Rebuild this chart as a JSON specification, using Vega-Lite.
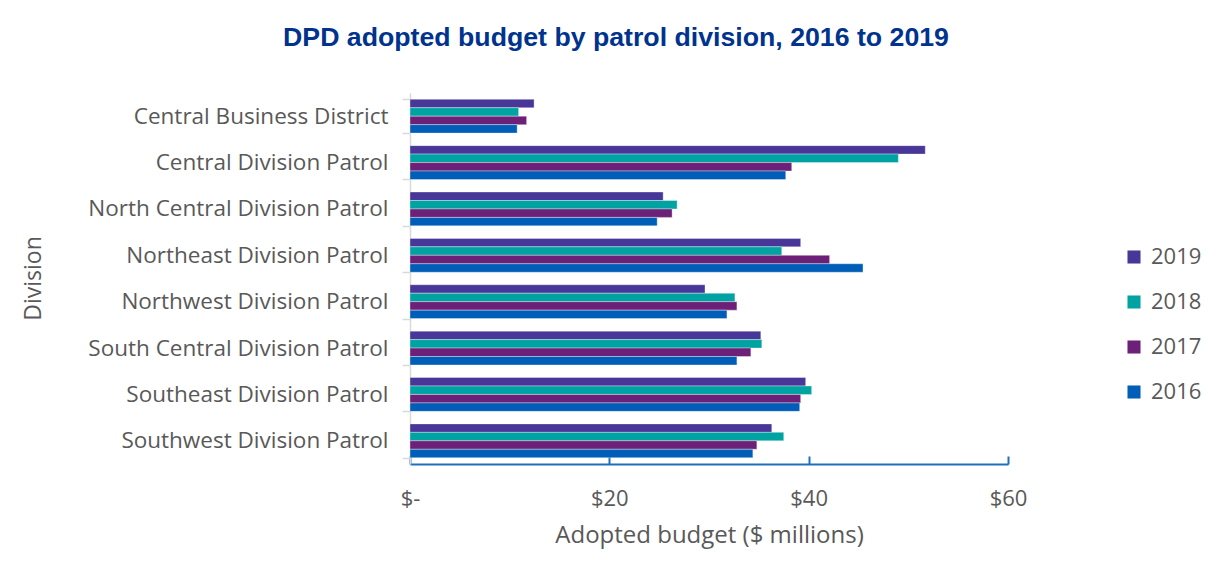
{
  "$schema": "https://vega.github.io/schema/vega-lite/v6.json",
  "width": 598,
  "height": 371,
  "padding": {"left": 22, "top": 25, "right": 5, "bottom": 5},
  "background": "white",
  "title": {
    "text": "DPD adopted budget by patrol division, 2016 to 2019",
    "font": "Liberation Sans",
    "fontSize": 26.7,
    "fontWeight": "bold",
    "color": "#00338D",
    "anchor": "middle",
    "frame": "bounds",
    "offset": 30,
    "dx": 4
  },
  "data": {
    "values": [
      {"division": "Central Business District", "year": "2019", "budget": 12.45},
      {"division": "Central Business District", "year": "2018", "budget": 10.9},
      {"division": "Central Business District", "year": "2017", "budget": 11.7},
      {"division": "Central Business District", "year": "2016", "budget": 10.75},
      {"division": "Central Division Patrol", "year": "2019", "budget": 51.7},
      {"division": "Central Division Patrol", "year": "2018", "budget": 49.0},
      {"division": "Central Division Patrol", "year": "2017", "budget": 38.3},
      {"division": "Central Division Patrol", "year": "2016", "budget": 37.7},
      {"division": "North Central Division Patrol", "year": "2019", "budget": 25.4},
      {"division": "North Central Division Patrol", "year": "2018", "budget": 26.8},
      {"division": "North Central Division Patrol", "year": "2017", "budget": 26.3},
      {"division": "North Central Division Patrol", "year": "2016", "budget": 24.8},
      {"division": "Northeast Division Patrol", "year": "2019", "budget": 39.2},
      {"division": "Northeast Division Patrol", "year": "2018", "budget": 37.3},
      {"division": "Northeast Division Patrol", "year": "2017", "budget": 42.1},
      {"division": "Northeast Division Patrol", "year": "2016", "budget": 45.45},
      {"division": "Northwest Division Patrol", "year": "2019", "budget": 29.6},
      {"division": "Northwest Division Patrol", "year": "2018", "budget": 32.6},
      {"division": "Northwest Division Patrol", "year": "2017", "budget": 32.8},
      {"division": "Northwest Division Patrol", "year": "2016", "budget": 31.8},
      {"division": "South Central Division Patrol", "year": "2019", "budget": 35.2},
      {"division": "South Central Division Patrol", "year": "2018", "budget": 35.3},
      {"division": "South Central Division Patrol", "year": "2017", "budget": 34.2},
      {"division": "South Central Division Patrol", "year": "2016", "budget": 32.8},
      {"division": "Southeast Division Patrol", "year": "2019", "budget": 39.7},
      {"division": "Southeast Division Patrol", "year": "2018", "budget": 40.3},
      {"division": "Southeast Division Patrol", "year": "2017", "budget": 39.2},
      {"division": "Southeast Division Patrol", "year": "2016", "budget": 39.1},
      {"division": "Southwest Division Patrol", "year": "2019", "budget": 36.3},
      {"division": "Southwest Division Patrol", "year": "2018", "budget": 37.5},
      {"division": "Southwest Division Patrol", "year": "2017", "budget": 34.8},
      {"division": "Southwest Division Patrol", "year": "2016", "budget": 34.4}
    ]
  },
  "mark": {"type": "bar", "stroke": "white", "strokeWidth": 0.5, "strokeOpacity": 0.7},
  "encoding": {
    "y": {
      "field": "division",
      "type": "nominal",
      "sort": null,
      "scale": {"paddingInner": 0.27, "paddingOuter": 0.135},
      "axis": {
        "title": "Division",
        "titleFont": "Open Sans",
        "titleFontSize": 23,
        "titleFontWeight": "normal",
        "titleColor": "#595959",
        "titleX": -377,
        "titleY": 185,
        "titleAngle": -90,
        "titleAlign": "center",
        "titleBaseline": "middle",
        "labelFont": "Open Sans",
        "labelFontSize": 22.5,
        "labelLimit": 500,
        "labelColor": "#595959",
        "labelPadding": 14,
        "tickBand": "extent",
        "tickSize": 8,
        "tickColor": "#d9d9d9",
        "tickWidth": 1.5,
        "domainColor": "#d9d9d9",
        "domainWidth": 1.5
      }
    },
    "yOffset": {"field": "year", "type": "nominal", "sort": ["2019", "2018", "2017", "2016"]},
    "x": {
      "field": "budget",
      "type": "quantitative",
      "scale": {"domain": [0, 60], "nice": false},
      "axis": {
        "title": "Adopted budget ($ millions)",
        "titleFont": "Open Sans",
        "titleFontSize": 24,
        "titleFontWeight": "normal",
        "titleColor": "#595959",
        "titlePadding": 14,
        "values": [0, 20, 40, 60],
        "labelExpr": "datum.value == 0 ? '$-' : '$' + datum.value",
        "labelFont": "Open Sans",
        "labelFontSize": 22,
        "labelFlush": false,
        "labelColor": "#595959",
        "labelPadding": 32,
        "tickSize": -8,
        "tickColor": "#1F6FC0",
        "tickWidth": 2,
        "domainColor": "#1F6FC0",
        "domainWidth": 2,
        "grid": false
      }
    },
    "color": {
      "field": "year",
      "type": "nominal",
      "scale": {"domain": ["2019", "2018", "2017", "2016"], "range": ["#483698", "#00A3A1", "#6D2077", "#005EB8"]},
      "legend": {
        "title": null,
        "orient": "none",
        "legendX": 713,
        "legendY": 153,
        "symbolType": "square",
        "symbolSize": 170,
        "symbolStrokeWidth": 0,
        "labelFont": "Open Sans",
        "labelFontSize": 22,
        "labelColor": "#595959",
        "labelOffset": 6,
        "rowPadding": 23
      }
    }
  },
  "config": {"view": {"stroke": null}}
}
